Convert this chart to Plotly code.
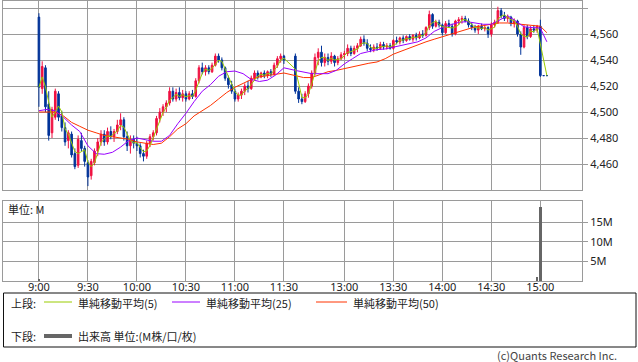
import plotly.graph_objects as go
import pandas as pd

# ---- time axis: minutes, morning 9:00=0 .. 11:30=150, afternoon 12:30=157 .. 15:00=307
am_t = list(range(0, 151, 2))
pm_t = list(range(157, 306, 2)) + [307, 309, 311]

am_open = [4573, 4518, 4534, 4506, 4484, 4496, 4514, 4497, 4488, 4478,
           4483, 4468, 4459, 4478, 4472, 4461, 4451, 4461, 4470, 4477,
           4483, 4477, 4485, 4481, 4485, 4490, 4494, 4481, 4474, 4479,
           4476, 4474, 4468, 4466, 4476, 4481, 4484, 4495, 4500, 4504,
           4507, 4516, 4510, 4515, 4511, 4514, 4510, 4514, 4512, 4524,
           4534, 4531, 4534, 4531, 4536, 4543, 4540, 4534, 4526, 4521,
           4516, 4510, 4513, 4516, 4520, 4518, 4526, 4530, 4527, 4530,
           4528, 4531, 4529, 4536, 4541, 4543]
am_high = [4576, 4539, 4536, 4516, 4504, 4518, 4516, 4501, 4492, 4486,
           4485, 4472, 4482, 4484, 4474, 4463, 4464, 4472, 4480, 4486,
           4486, 4488, 4489, 4487, 4494, 4499, 4496, 4485, 4482, 4482,
           4481, 4476, 4471, 4478, 4483, 4486, 4497, 4503, 4506, 4509,
           4519, 4519, 4518, 4519, 4517, 4516, 4516, 4517, 4526, 4536,
           4538, 4536, 4536, 4538, 4545, 4545, 4542, 4535, 4528, 4524,
           4518, 4515, 4518, 4522, 4524, 4528, 4532, 4532, 4531, 4532,
           4532, 4533, 4538, 4543, 4545, 4544]
am_low = [4504, 4514, 4500, 4478, 4480, 4494, 4493, 4485, 4474, 4472,
          4465, 4456, 4457, 4470, 4458, 4443, 4448, 4459, 4466, 4474,
          4474, 4475, 4479, 4477, 4483, 4486, 4478, 4470, 4468, 4472,
          4470, 4465, 4462, 4464, 4473, 4478, 4482, 4492, 4497, 4500,
          4505, 4508, 4508, 4509, 4508, 4508, 4509, 4510, 4511, 4522,
          4529, 4528, 4529, 4530, 4535, 4538, 4532, 4524, 4518, 4514,
          4508, 4508, 4510, 4513, 4515, 4517, 4524, 4525, 4526, 4526,
          4526, 4527, 4528, 4534, 4538, 4537]
am_close = [4519, 4535, 4504, 4482, 4502, 4516, 4496, 4488, 4477, 4484,
            4467, 4458, 4479, 4472, 4462, 4450, 4462, 4470, 4477, 4483,
            4477, 4485, 4481, 4485, 4490, 4494, 4481, 4474, 4479, 4476,
            4474, 4468, 4466, 4476, 4481, 4484, 4495, 4500, 4504, 4507,
            4516, 4510, 4515, 4511, 4514, 4510, 4514, 4512, 4524, 4534,
            4531, 4534, 4531, 4536, 4543, 4540, 4534, 4526, 4521, 4516,
            4510, 4513, 4516, 4520, 4518, 4526, 4530, 4527, 4530, 4528,
            4531, 4529, 4536, 4541, 4543, 4540]

pm_open = [4543, 4516, 4510, 4508, 4514, 4520, 4530, 4542, 4546, 4538,
           4542, 4539, 4543, 4538, 4541, 4544, 4545, 4549, 4545, 4549,
           4551, 4556, 4553, 4549, 4548, 4550, 4549, 4552, 4550, 4551,
           4549, 4555, 4554, 4557, 4555, 4558, 4556, 4559, 4557, 4560,
           4559, 4565, 4575, 4566, 4569, 4567, 4561, 4568, 4566, 4560,
           4570, 4571, 4572, 4570, 4567, 4565, 4563, 4566, 4564, 4565,
           4560, 4567, 4569, 4578, 4574, 4572, 4573, 4568, 4570, 4560,
           4550, 4565, 4558, 4564, 4563, 4566, 4528, 4528]
pm_high = [4545, 4519, 4514, 4516, 4522, 4532, 4545, 4549, 4551, 4545,
           4545, 4546, 4544, 4543, 4546, 4547, 4552, 4551, 4551, 4553,
           4558, 4559, 4556, 4552, 4552, 4553, 4554, 4554, 4553, 4553,
           4556, 4558, 4558, 4559, 4559, 4560, 4560, 4561, 4562, 4563,
           4566, 4578, 4576, 4571, 4571, 4568, 4570, 4571, 4568, 4571,
           4573, 4574, 4574, 4572, 4569, 4567, 4567, 4568, 4567, 4566,
           4569, 4571, 4581, 4580, 4577, 4575, 4574, 4572, 4571, 4562,
           4567, 4567, 4566, 4567, 4567, 4571, 4528, 4528]
pm_low = [4514, 4507, 4506, 4507, 4511, 4518, 4528, 4536, 4535, 4535,
          4536, 4537, 4535, 4536, 4540, 4541, 4543, 4543, 4544, 4546,
          4550, 4551, 4547, 4546, 4546, 4547, 4548, 4548, 4548, 4548,
          4548, 4552, 4552, 4553, 4554, 4555, 4554, 4555, 4556, 4557,
          4558, 4563, 4564, 4565, 4565, 4559, 4560, 4565, 4558, 4559,
          4567, 4568, 4569, 4565, 4563, 4561, 4560, 4563, 4562, 4557,
          4558, 4565, 4568, 4572, 4570, 4569, 4566, 4565, 4558, 4544,
          4549, 4556, 4557, 4561, 4561, 4527, 4528, 4528]
pm_close = [4516, 4510, 4508, 4514, 4520, 4530, 4542, 4546, 4538, 4542,
            4539, 4543, 4538, 4541, 4544, 4545, 4549, 4545, 4549, 4551,
            4556, 4553, 4549, 4548, 4550, 4549, 4552, 4550, 4551, 4549,
            4555, 4554, 4557, 4555, 4558, 4556, 4559, 4557, 4560, 4559,
            4565, 4575, 4566, 4569, 4567, 4561, 4568, 4566, 4560, 4570,
            4571, 4572, 4570, 4567, 4565, 4563, 4566, 4564, 4565, 4560,
            4567, 4569, 4578, 4574, 4572, 4573, 4568, 4570, 4560, 4550,
            4565, 4558, 4564, 4563, 4566, 4528, 4528, 4528]

# moving averages (25 / 50)
ma_t = list(range(0, 151, 5)) + list(range(157, 308, 5)) + [311]
sma25 = [4501, 4502, 4501, 4496, 4490, 4485, 4474, 4468, 4467.5, 4469,
         4473, 4478, 4480, 4479, 4477.5, 4477.5, 4482, 4491, 4499, 4508,
         4516, 4521, 4527.5, 4531, 4531.5, 4529.5, 4525, 4523.5, 4524.5, 4528.5, 4534,
         4532, 4530.5, 4529.5, 4529.5, 4529.5, 4532, 4537, 4541, 4545, 4546.5,
         4548, 4548.5, 4550, 4551.5, 4552.5, 4554, 4557, 4562, 4565, 4567,
         4569, 4569.5, 4568.5, 4567.5, 4567.5, 4571, 4574, 4570, 4565.5, 4565,
         4564.5, 4554]
sma50 = [4500, 4500, 4500, 4497, 4492, 4489, 4486, 4484, 4482, 4481,
         4480, 4479, 4477, 4476, 4475, 4476, 4481, 4487, 4491, 4497,
         4501, 4505, 4510, 4515, 4519, 4522, 4525, 4527, 4528, 4529, 4530,
         4528, 4526.5, 4526.5, 4529, 4531, 4532, 4533.5, 4535, 4536.5, 4537.5,
         4538.5, 4541, 4544.5, 4547, 4549, 4551.5, 4554, 4556, 4558, 4560,
         4562, 4564, 4565.5, 4566.5, 4567.5, 4568.5, 4568.5, 4568, 4567.5, 4567,
         4566, 4561]

vol_t = [0, 305, 307]
vol = [0.4e6, 1.1e6, 19.0e6]

tick_pos = [0, 30, 60, 90, 120, 150, 187, 217, 247, 277, 307]
tick_lbl = ["9:00", "9:30", "10:00", "10:30", "11:00", "11:30",
            "13:00", "13:30", "14:00", "14:30", "15:00"]
price_ticks = [4460, 4480, 4500, 4520, 4540, 4560, 4580]

t_all = am_t + pm_t
o_all = am_open + pm_open
h_all = am_high + pm_high
l_all = am_low + pm_low
c_all = am_close + pm_close
sma5 = pd.Series(c_all).rolling(3, min_periods=1).mean()

W, H = 638, 362
def px(x): return x / W
def py(y): return 1 - y / H

RED = "#f01040"
BLUE = "#003399"
GRID = "#9a9a9a"
FONT = "Noto Sans, Noto Sans CJK JP"
JFONT = "Noto Sans CJK JP"

fig = go.Figure()
fig.add_trace(go.Candlestick(
    x=t_all, open=o_all, high=h_all, low=l_all, close=c_all,
    increasing=dict(line=dict(color=RED, width=1), fillcolor=RED),
    decreasing=dict(line=dict(color=BLUE, width=1), fillcolor=BLUE),
    whiskerwidth=0, showlegend=False, xaxis="x", yaxis="y"))
fig.add_trace(go.Scatter(x=ma_t, y=sma50, mode="lines",
                         line=dict(color="#ff3300", width=1), showlegend=False))
fig.add_trace(go.Scatter(x=ma_t, y=sma25, mode="lines",
                         line=dict(color="#9900ff", width=1), showlegend=False))
fig.add_trace(go.Scatter(x=t_all, y=sma5, mode="lines",
                         line=dict(color="#99cc00", width=1), showlegend=False))
fig.add_trace(go.Bar(x=vol_t, y=vol, width=1.6, marker=dict(color="#666666", line=dict(width=0)),
                     showlegend=False, xaxis="x2", yaxis="y2"))

xdom = [px(3), px(582)]
common_x = dict(domain=xdom, range=[-22, 332.5], tickvals=tick_pos, ticktext=tick_lbl,
                showgrid=True, gridcolor=GRID, gridwidth=1, showline=True, linecolor=GRID,
                linewidth=1, mirror=True, zeroline=False, ticks="")
fig.update_layout(
    width=W, height=H, margin=dict(l=0, r=0, t=0, b=0),
    paper_bgcolor="white", plot_bgcolor="white",
    font=dict(family=FONT, size=11, color="#222"),
    xaxis=dict(**common_x, anchor="y", showticklabels=False, rangeslider=dict(visible=False)),
    xaxis2=dict(**common_x, anchor="y2", matches="x", showticklabels=True,
                ticklabelstandoff=-4, tickfont=dict(size=11, color="#222")),
    yaxis=dict(domain=[py(190), py(1)], range=[4440, 4585.4], side="right", anchor="x",
               tickvals=price_ticks, tickformat=",", ticks="outside", ticklen=5, tickcolor=GRID,
               showgrid=True, gridcolor=GRID, showline=True, linecolor=GRID, mirror=True,
               zeroline=False, tickfont=dict(size=11, color="#222")),
    yaxis2=dict(domain=[py(281), py(201)], range=[0, 20.5e6], side="right", anchor="x2",
                tickvals=[5e6, 10e6, 15e6], ticktext=["5M", "10M", "15M"], ticks="outside",
                ticklen=5, tickcolor=GRID, showgrid=True, gridcolor=GRID, showline=True,
                linecolor=GRID, mirror=True, zeroline=False, tickfont=dict(size=11, color="#222")),
    bargap=0,
)

def note(x, y, text, anchor="left", size=11, color="#222"):
    fig.add_annotation(x=px(x), y=py(y), xref="paper", yref="paper", text=text,
                       showarrow=False, xanchor=anchor, yanchor="middle", borderpad=0,
                       font=dict(family=JFONT, size=size, color=color))

note(7, 209, "単位: M")
# legend box
fig.add_shape(type="rect", xref="paper", yref="paper", x0=px(3.5), x1=px(636), y0=py(347), y1=py(293),
              line=dict(color="#111", width=1))
note(10, 303, "上段:")
note(10, 336, "下段:")
legend_items = [(44, 72, "#99cc00", "単純移動平均(5)"),
                (172, 200, "#9900ff", "単純移動平均(25)"),
                (316, 347, "#ff3300", "単純移動平均(50)")]
for x0, x1, col, label in legend_items:
    fig.add_shape(type="line", xref="paper", yref="paper", x0=px(x0), x1=px(x1),
                  y0=py(302), y1=py(302), line=dict(color=col, width=1))
    note(x1 + 5, 303, label)
fig.add_shape(type="line", xref="paper", yref="paper", x0=px(44), x1=px(72),
              y0=py(336), y1=py(336), line=dict(color="#666666", width=4))
note(77, 336, "出来高 単位:(M株/口/枚)")
note(618, 355, "(c)Quants Research Inc.", anchor="right", color="#444")

fig.write_html("out.html", config={"displayModeBar": False},
               post_script="document.body.style.margin='0';document.body.style.overflow='hidden';")
